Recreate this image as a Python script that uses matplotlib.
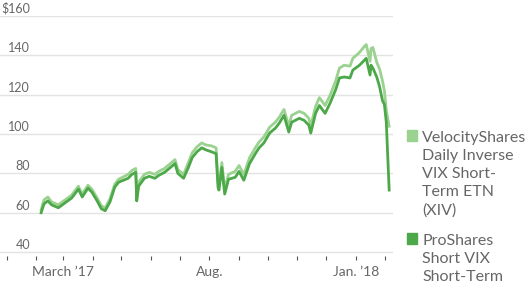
import pandas as pd
import matplotlib.pyplot as plt
import matplotlib.dates as mdates
from matplotlib.patches import Rectangle

plt.rcParams['font.family'] = ['Lato', 'DejaVu Sans']

# --- data ---
dates = [
    '2017-02-06', '2017-02-09', '2017-02-13', '2017-02-17', '2017-02-24',
    '2017-03-03', '2017-03-10', '2017-03-17', '2017-03-21', '2017-03-27',
    '2017-03-31', '2017-04-05', '2017-04-10', '2017-04-14', '2017-04-19',
    '2017-04-24', '2017-04-28', '2017-05-08', '2017-05-12', '2017-05-16',
    '2017-05-17', '2017-05-19', '2017-05-25', '2017-05-30', '2017-06-05',
    '2017-06-09', '2017-06-15', '2017-06-20', '2017-06-26', '2017-06-29',
    '2017-07-05', '2017-07-10', '2017-07-14', '2017-07-19', '2017-07-24',
    '2017-07-28', '2017-08-03', '2017-08-08', '2017-08-10', '2017-08-11',
    '2017-08-14', '2017-08-17', '2017-08-21', '2017-08-28', '2017-09-01',
    '2017-09-06', '2017-09-12', '2017-09-18', '2017-09-22', '2017-09-27',
    '2017-10-03', '2017-10-09', '2017-10-13', '2017-10-18', '2017-10-23',
    '2017-10-26', '2017-11-03', '2017-11-08', '2017-11-13', '2017-11-15',
    '2017-11-20', '2017-11-24', '2017-11-30', '2017-12-05', '2017-12-11',
    '2017-12-15', '2017-12-20', '2017-12-26', '2017-12-29', '2018-01-05',
    '2018-01-10', '2018-01-12', '2018-01-16', '2018-01-17', '2018-01-19',
    '2018-01-23', '2018-01-26', '2018-01-29', '2018-01-31', '2018-02-02',
    '2018-02-05',
]

xiv = [
    61.5, 66.5, 68.0, 65.5, 64.0,
    66.5, 69.0, 73.5, 69.5, 74.0,
    72.0, 68.0, 63.5, 62.5, 67.0,
    74.5, 77.0, 79.5, 81.5, 82.5,
    68.0, 75.5, 79.5, 80.5, 79.5,
    81.0, 82.5, 84.5, 87.0, 82.0,
    79.5, 85.5, 90.5, 93.5, 95.5,
    94.5, 94.0, 93.0, 75.5, 74.0,
    85.5, 72.0, 79.5, 81.0, 84.0,
    79.5, 88.0, 93.0, 96.0, 98.5,
    103.5, 106.0, 108.5, 112.5, 104.0,
    109.5, 111.5, 110.5, 108.0, 104.0,
    114.0, 118.5, 114.5, 119.5, 127.0,
    133.5, 135.0, 134.5, 138.5, 141.5,
    144.5, 145.5, 137.0, 143.5, 144.0,
    136.5, 133.0, 127.0, 122.0, 112.0,
    104.0,
]

svxy = [
    60.0, 64.5, 66.0, 64.0, 62.5,
    65.0, 67.5, 72.0, 68.0, 72.5,
    70.5, 66.5, 62.0, 61.0, 65.5,
    73.0, 75.5, 77.5, 79.5, 80.5,
    66.0, 73.5, 77.5, 78.5, 77.5,
    79.0, 80.5, 82.5, 85.0, 80.0,
    77.5, 83.0, 88.0, 91.0, 93.0,
    92.0, 91.0, 90.0, 73.0, 71.5,
    83.0, 69.5, 77.0, 78.0, 81.0,
    76.5, 85.0, 90.0, 93.0, 95.5,
    100.5, 103.0, 105.5, 109.5, 101.0,
    106.0, 108.0, 107.0, 104.5, 100.5,
    110.5, 114.5, 110.5, 115.5, 122.5,
    128.5, 129.0, 128.5, 132.5, 135.0,
    137.5, 138.5, 130.0, 135.0, 133.5,
    129.0, 124.0, 117.0, 115.0, 106.0,
    71.5,
]

labels = ['VelocityShares\nDaily Inverse\nVIX Short-\nTerm ETN\n(XIV)',
          'ProShares\nShort VIX\nShort-Term']
light = '#9ad290'
dark = '#4ca848'
grey = '#666666'

d = pd.to_datetime(dates)

fig = plt.figure(figsize=(5.32, 2.88), dpi=100)
ax = fig.add_axes([0, 32 / 288, 393 / 532, 240 / 288])

ax.plot(d, xiv, color=light, lw=2.0)
ax.plot(d, svxy, color=dark, lw=2.0)

ax.set_xlim(pd.Timestamp('2016-12-25'), pd.Timestamp('2018-02-09'))
ax.set_ylim(38, 160)

# gridlines with labels sitting just above them
yticks = [40, 60, 80, 100, 120, 140, 160]
for v in yticks:
    ax.axhline(v, color='#e3e3e3', lw=1, zorder=0)
    txt = '$160' if v == 160 else str(v)
    ax.text(30 / 393, v + 1.6, txt, transform=ax.get_yaxis_transform(),
            ha='right', va='baseline', fontsize=9, color=grey)
ax.set_yticks([])

for s in ax.spines.values():
    s.set_visible(False)

ax.xaxis.set_major_locator(mdates.MonthLocator())
ax.xaxis.set_major_formatter(plt.NullFormatter())
ax.tick_params(axis='x', length=3, width=0.8, color='#555555')
for lab, dt in [('March ’17', '2017-03-01'), ('Aug.', '2017-08-01'),
                ('Jan. ’18', '2018-01-01')]:
    ax.text(pd.Timestamp(dt), -0.04, lab, transform=ax.get_xaxis_transform(),
            ha='center', va='top', fontsize=10, color=grey)

# legend
H = 288.0
for lab, col, ytop in [(labels[0], light, 130), (labels[1], dark, 233)]:
    fig.patches.append(Rectangle((407 / 532, 1 - (ytop + 11) / H), 10 / 532, 11 / H,
                                 transform=fig.transFigure, color=col))
    fig.text(422 / 532, 1 - (ytop + 1) / H, lab, ha='left', va='top',
             fontsize=11.5, color=grey, linespacing=1.36)

fig.savefig('out.png', dpi=100)
